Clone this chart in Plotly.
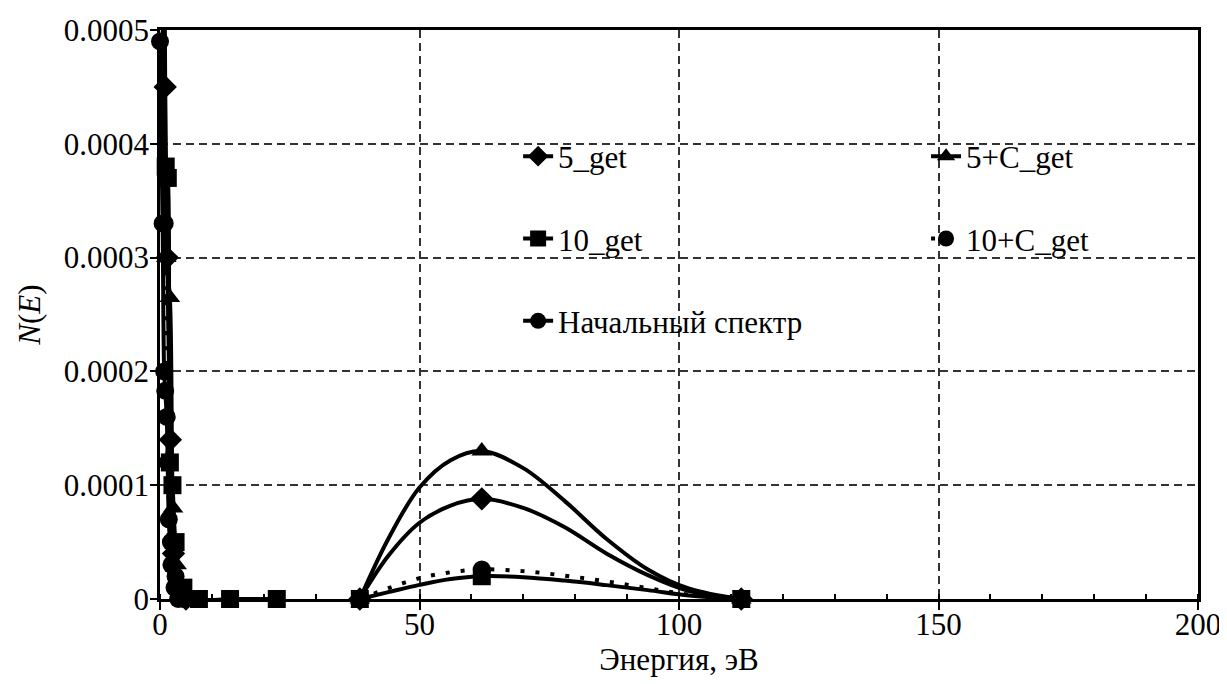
import plotly.graph_objects as go

# ---- data ----
x_bump = [38.5, 44, 50, 56, 62, 70, 78, 86, 94, 102, 112]
bump_marker_x = [38.5, 62, 112]

x_start = [0.0, 0.5, 0.8, 1.0, 1.3, 1.7, 2.2, 2.8, 3.5]
y_start = [0.00049, 0.00033, 0.00020, 0.000183, 0.00016, 0.00007, 0.00003, 0.00001, 0.0]

x_5_low = [0.3, 1.0, 1.4, 2.0, 2.6, 3.5, 5.0]
y_5_low = [0.0010, 0.00045, 0.00030, 0.00014, 0.00004, 0.00001, 0.0]
y_5_bump = [0.0, 0.000038, 0.000067, 0.000082, 0.000088, 0.00008,
            0.000063, 0.00004, 0.000021, 0.000007, 0.0]

x_5c_low = [0.4, 1.2, 1.9, 2.5, 3.2, 4.5]
y_5c_low = [0.0011, 0.00030, 0.000265, 0.00008, 0.00003, 0.0]
y_5c_bump = [0.0, 0.000053, 0.000098, 0.000122, 0.00013, 0.000115,
             0.000086, 0.000053, 0.000026, 0.000009, 0.0]

x_10c_low = [0.3, 0.9, 1.5, 2.1, 3.0, 4.5]
y_10c_low = [0.0010, 0.00033, 0.00012, 0.00005, 0.00002, 0.0]
y_10c_bump = [0.0, 0.0000095, 0.0000183, 0.0000235, 0.000026, 0.0000245,
              0.0000205, 0.0000155, 0.0000095, 0.0000038, 0.0]

x_10_low = [0.5, 1.1, 1.5, 1.9, 2.4, 3.0, 4.5, 7.5, 13.5, 22.5]
y_10_low = [0.0012, 0.00038, 0.00037, 0.00012, 0.00010, 0.00005, 0.00001, 0.0, 0.0, 0.0]
y_10_bump = [0.0, 0.000006, 0.0000124, 0.0000175, 0.00002, 0.0000192,
             0.0000162, 0.0000122, 0.0000078, 0.000003, 0.0]

x_ticks = [0, 50, 100, 150, 200]
y_ticks = [0, 0.0001, 0.0002, 0.0003, 0.0004, 0.0005]
y_ticktext = ["0", "0.0001", "0.0002", "0.0003", "0.0004", "0.0005"]

FONT = "Liberation Serif"
FS = 31
LW = 4
MS = 18

fig = go.Figure()
series = []


def series_add(name, x_low, y_low, y_bump, symbol, legend, rank, dash="solid"):
    series.append(dict(name=name, x_low=x_low, y_low=y_low, y_bump=y_bump,
                       symbol=symbol, legend=legend, rank=rank, dash=dash))


series_add("Начальный спектр", x_start, y_start, None, "circle", "legend", 3)
series_add("5_get", x_5_low, y_5_low, y_5_bump, "diamond", "legend", 1)
series_add("5+C_get", x_5c_low, y_5c_low, y_5c_bump, "triangle-up", "legend2", 1)
series_add("10+C_get", x_10c_low, y_10c_low, y_10c_bump, "circle", "legend2", 2,
           dash="4px,11px")
series_add("10_get", x_10_low, y_10_low, y_10_bump, "square", "legend", 2)

# smooth curves (low-energy part and high-energy bump drawn as separate segments)
for s in series:
    xs, ys = list(s["x_low"]), list(s["y_low"])
    if s["y_bump"] is not None:
        xs += [None] + x_bump
        ys += [None] + s["y_bump"]
    fig.add_trace(go.Scatter(
        x=xs, y=ys, mode="lines", showlegend=False, hoverinfo="skip",
        connectgaps=False,
        line=dict(color="black", width=LW, shape="spline", smoothing=1.0, dash=s["dash"]),
    ))

# markers at the measured points shown in the figure
for s in series:
    mx, my = list(s["x_low"]), list(s["y_low"])
    if s["y_bump"] is not None:
        for x, y in zip(x_bump, s["y_bump"]):
            if x in bump_marker_x:
                mx.append(x)
                my.append(y)
    fig.add_trace(go.Scatter(
        x=mx, y=my, mode="markers", showlegend=False, cliponaxis=False,
        marker=dict(symbol=s["symbol"], size=MS, color="black"),
    ))

# legend entries
for s in series:
    fig.add_trace(go.Scatter(
        x=[None], y=[None], mode="lines+markers", name=s["name"],
        line=dict(color="black", width=LW, dash=s["dash"]),
        marker=dict(symbol=s["symbol"], size=MS, color="black"),
        legend=s["legend"], legendgroup=s["name"], legendrank=s["rank"],
    ))

grid = dict(showgrid=True, gridcolor="#333333", gridwidth=2, griddash="8px,5px")
fnt = dict(family=FONT, size=FS, color="black")

fig.update_layout(
    width=1227, height=684,
    margin=dict(l=152, r=37, t=22, b=93),
    paper_bgcolor="white", plot_bgcolor="white",
    font=fnt,
    legend=dict(x=0.345, y=0.825, xanchor="left", yanchor="top",
                bgcolor="rgba(0,0,0,0)", tracegroupgap=39, font=fnt),
    legend2=dict(x=0.738, y=0.825, xanchor="left", yanchor="top",
                 bgcolor="rgba(0,0,0,0)", tracegroupgap=39, font=fnt),
    xaxis=dict(range=[0, 200], tickvals=x_ticks, ticktext=[str(v) for v in x_ticks],
               automargin=False, tickfont=fnt,
               ticks="outside", ticklen=8, tickwidth=2, tickcolor="black",
               ticklabelstandoff=-12,
               showline=True, linecolor="black", linewidth=2.5, mirror=True,
               zeroline=False,
               minor=dict(dtick=10, ticks="inside", ticklen=5, tickwidth=2,
                          tickcolor="black", showgrid=False),
               title=dict(text="Энергия, эВ", standoff=1, font=fnt),
               **grid),
    yaxis=dict(range=[0, 0.0005], tickvals=y_ticks, ticktext=y_ticktext,
               automargin=False, tickfont=fnt,
               ticks="outside", ticklen=7, tickwidth=2, tickcolor="black",
               ticklabelstandoff=-5,
               showline=True, linecolor="black", linewidth=2.5, mirror=True,
               zeroline=False,
               title=dict(text="<i>N</i>(<i>E</i>)", standoff=14, font=fnt),
               **grid),
)

fig.write_html("out.html")
